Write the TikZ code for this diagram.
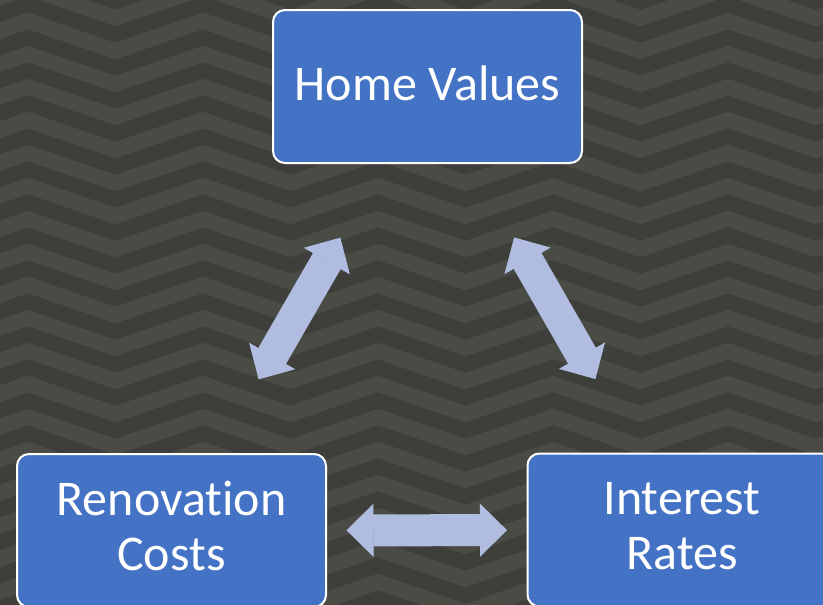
\documentclass[tikz,border=0pt]{standalone}
\usepackage{fontspec}
\setmainfont{Carlito}[Ligatures=NoCommon]
\usetikzlibrary{arrows.meta}
\definecolor{bgdark}{RGB}{62,63,58}
\definecolor{bglight}{RGB}{74,75,69}
\definecolor{boxblue}{RGB}{68,114,196}
\definecolor{linkblue}{RGB}{176,189,224}

\begin{document}
\begin{tikzpicture}[
      x=1pt, y=-1pt,
      factor/.style={draw=white, line width=2pt, fill=boxblue, rounded corners=12pt,
        minimum width=309pt, minimum height=153pt, inner sep=0pt,
        text=white, align=center, font=\fontsize{50}{55}\selectfont},
      link/.style={draw=linkblue, line width=32pt,
        {Triangle[width=53pt,length=27pt,line width=1pt]}-{Triangle[width=53pt,length=27pt,line width=1pt]}}
    ]
    \useasboundingbox (0,0) rectangle (823,605);
    \clip (0,0) rectangle (823,605);

    % Chevron background
    \fill[bgdark] (0,0) rectangle (823,605);
    \foreach \k [evaluate=\k as \y using 21+33*\k] in {-2,...,19}
      \draw[bglight, line width=15.6pt] (-147,\y)
        \foreach \p in {28,203,378,553,728,903} { -- (\p-87.5,\y+30) -- (\p,\y) };

    % Factors
    \node[factor, text height=27pt, text depth=0pt] (home) at (427.5,86.5) {Home Values};
    \node[factor, text depth=9pt] (reno) at (171.5,530.5) {Renovation\\Costs};
    \node[factor, text depth=9pt] (rates) at (682,530) {Interest\\Rates};

    % Links between factors
    \draw[link, shorten <=174.5pt, shorten >=174.5pt] (reno.center) -- (home.center);
    \draw[link, shorten <=174pt, shorten >=174pt] (rates.center) -- (home.center);
    \draw[link, shorten <=175pt, shorten >=175pt] (reno.center) -- (rates.center);

\end{tikzpicture}
\end{document}
